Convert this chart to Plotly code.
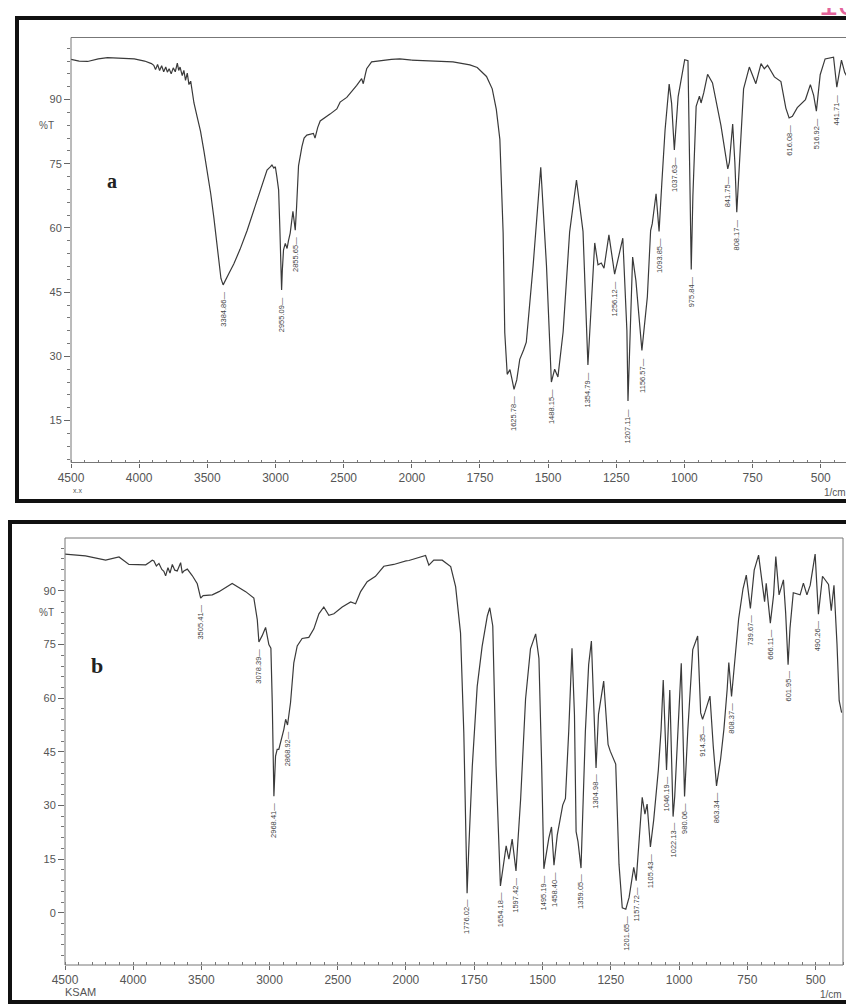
import plotly.graph_objects as go

W, H = 854, 1007
OFF = 8  # page body margin of the browser, compensated so pixel positions match the reference

# ---------------- data ----------------
wn_a = [4500, 4440, 4378, 4300, 4232, 4100, 4036, 3960, 3910, 3893, 3880, 3865, 3850, 3835, 3820,
        3805, 3793, 3780, 3765, 3750, 3735, 3720, 3710, 3700, 3684, 3672, 3660, 3647, 3635, 3622,
        3610, 3598, 3575, 3550, 3525, 3500, 3475, 3452, 3430, 3415, 3400, 3384, 3370, 3340, 3306,
        3260, 3208, 3160, 3111, 3062, 3040, 3026, 3012, 3001, 2990, 2977, 2968, 2962, 2955, 2950,
        2941, 2928, 2915, 2905, 2892, 2872, 2862, 2855, 2845, 2831, 2806, 2790, 2770, 2740, 2722,
        2710, 2690, 2672, 2640, 2600, 2550, 2526, 2477, 2440, 2404, 2368, 2356, 2340, 2331, 2295,
        2250, 2210, 2150, 2088, 2040, 2000, 1971, 1934, 1849, 1787, 1760, 1726, 1705, 1690, 1677,
        1665, 1659, 1650, 1640, 1632, 1625, 1615, 1604, 1590, 1580, 1555, 1531, 1527, 1506, 1488,
        1476, 1464, 1445, 1421, 1396, 1372, 1354, 1341, 1329, 1317, 1305, 1295, 1277, 1256, 1226,
        1211, 1207, 1190, 1178, 1156, 1136, 1124, 1118, 1104, 1093, 1083, 1071, 1056, 1047, 1037,
        1023, 999, 987, 981, 975, 969, 957, 945, 939, 929, 915, 897, 866, 841, 835, 823, 815, 808,
        799, 783, 762, 750, 738, 719, 707, 695, 670, 646, 628, 616, 604, 586, 556, 538, 526, 516,
        502, 484, 453, 441, 424, 412, 400]
t_a = [99.4, 99.0, 98.9, 99.5, 99.8, 99.6, 99.5, 99.0, 98.4, 98.0, 97.0, 98.2, 96.8, 97.9, 96.5,
       97.6, 96.4, 97.2, 96.0, 97.4, 96.5, 98.5, 96.8, 97.6, 95.6, 96.8, 94.5, 96.2, 93.5, 94.3,
       92.0, 89.2, 86.0, 82.6, 78.0, 73.3, 68.0, 62.4, 55.8, 51.5, 48.2, 46.7, 47.5, 49.5, 51.6,
       55.0, 59.4, 64.0, 68.8, 73.5, 74.2, 74.7, 74.0, 74.3, 72.0, 68.9, 60.0, 50.0, 45.5, 50.0,
       54.9, 56.4, 55.2, 57.0, 58.8, 63.9, 61.0, 59.5, 65.0, 74.5, 79.0, 81.0, 81.7, 82.0, 82.1,
       81.0, 83.5, 85.0, 85.8, 86.6, 87.8, 89.4, 90.5, 91.8, 93.3, 94.9, 93.7, 96.0, 97.2, 98.8,
       99.0, 99.2, 99.4, 99.5, 99.3, 99.2, 99.2, 99.0, 98.8, 98.1, 97.5, 95.4, 92.5, 87.7, 80.7,
       58.9, 35.5, 25.8, 26.9, 24.5, 22.3, 24.5, 29.3, 31.5, 33.3, 51.2, 73.0, 74.2, 51.2, 24.0,
       27.0, 25.2, 35.7, 59.1, 71.2, 59.2, 28.0, 43.6, 56.5, 51.4, 51.8, 50.6, 58.4, 49.2, 57.6,
       36.0, 19.6, 53.2, 47.7, 31.4, 43.9, 59.4, 61.0, 68.0, 59.2, 70.4, 82.9, 93.6, 89.1, 78.2,
       90.7, 99.3, 99.1, 75.2, 50.3, 67.4, 88.4, 90.8, 89.2, 91.6, 95.9, 93.9, 83.9, 73.8, 75.4,
       84.3, 75.3, 63.7, 75.3, 92.5, 97.6, 95.6, 93.7, 98.4, 97.2, 98.0, 95.3, 94.2, 88.0, 85.7,
       86.1, 88.1, 90.0, 93.5, 91.0, 87.3, 95.8, 99.5, 99.9, 92.9, 99.2, 96.3, 95.0]

wn_b = [4500, 4350, 4202, 4104, 4031, 3908, 3880, 3860, 3848, 3830, 3811, 3790, 3775, 3762, 3745,
        3730, 3713, 3695, 3677, 3665, 3652, 3640, 3628, 3603, 3567, 3530, 3505, 3487, 3420, 3371,
        3274, 3175, 3115, 3090, 3078, 3054, 3029, 3005, 2990, 2980, 2968, 2956, 2944, 2932, 2919,
        2895, 2882, 2868, 2846, 2822, 2797, 2761, 2712, 2675, 2638, 2602, 2565, 2528, 2467, 2405,
        2369, 2332, 2284, 2223, 2162, 2089, 1989, 1952, 1928, 1916, 1898, 1867, 1836, 1818, 1800,
        1788, 1782, 1776, 1770, 1757, 1739, 1721, 1702, 1693, 1682, 1670, 1654, 1642, 1633, 1623,
        1611, 1597, 1580, 1562, 1544, 1525, 1513, 1503, 1495, 1477, 1467, 1458, 1446, 1426, 1416,
        1404, 1392, 1383, 1377, 1370, 1359, 1343, 1331, 1321, 1309, 1304, 1295, 1276, 1260, 1252,
        1232, 1220, 1208, 1195, 1183, 1166, 1157, 1135, 1125, 1117, 1105, 1093, 1076, 1066, 1058,
        1046, 1034, 1022, 1016, 1004, 992, 980, 968, 950, 932, 921, 914, 906, 887, 875, 863, 848,
        836, 824, 818, 808, 794, 782, 766, 754, 739, 725, 709, 687, 681, 666, 654, 646, 634, 618,
        610, 601, 594, 582, 557, 545, 532, 520, 502, 490, 475, 453, 443, 433, 422, 414, 405]
t_b = [100.3, 99.8, 98.6, 99.5, 97.4, 97.3, 98.0, 98.6, 98.4, 97.0, 97.7, 96.0, 95.5, 94.2, 96.5,
       95.0, 97.4, 95.8, 95.6, 97.0, 97.9, 95.0, 95.6, 96.1, 94.3, 92.0, 88.0, 88.7, 88.9, 89.8,
       92.1, 89.8, 88.0, 82.0, 75.7, 77.5, 79.8, 75.0, 74.0, 58.7, 32.6, 43.8, 45.7, 45.7, 47.6,
       51.3, 54.1, 52.5, 58.8, 69.9, 74.6, 76.7, 77.0, 79.4, 83.6, 85.5, 83.2, 83.6, 85.5, 86.9,
       86.4, 89.8, 92.6, 94.1, 96.9, 97.4, 98.5, 99.4, 99.9, 97.2, 98.6, 98.6, 96.8, 91.2, 78.2,
       50.2, 22.3, 5.5, 17.6, 40.9, 63.3, 74.5, 83.0, 85.3, 80.2, 41.1, 7.5, 14.0, 18.7, 15.0,
       20.6, 11.7, 31.8, 59.8, 73.8, 78.0, 71.1, 41.2, 12.3, 20.8, 24.0, 13.3, 21.7, 30.1, 32.0,
       50.7, 74.0, 55.4, 22.7, 19.9, 12.5, 50.8, 69.4, 76.0, 50.8, 40.5, 55.5, 64.8, 47.1, 45.2,
       41.6, 13.6, 1.4, 1.0, 4.3, 12.7, 9.0, 32.3, 27.6, 30.4, 18.4, 25.9, 39.9, 51.1, 65.1,
       39.9, 62.3, 26.9, 32.5, 51.2, 69.8, 32.5, 51.2, 73.6, 77.4, 55.9, 54.1, 55.9, 60.6, 46.6,
       35.5, 43.0, 51.3, 62.5, 70.0, 60.5, 71.9, 82.2, 90.6, 94.4, 85.1, 95.8, 100.0, 87.0, 92.1,
       81.0, 88.9, 99.6, 88.9, 93.1, 84.0, 69.4, 79.6, 89.5, 88.9, 92.2, 88.9, 91.6, 100.3, 83.5,
       94.1, 91.8, 84.5, 91.6, 75.2, 59.3, 56.0]

peak_labels_a = ["3384.86", "2955.09", "2855.65", "1625.78", "1488.15", "1354.79", "1256.12",
                 "1207.11", "1156.57", "1093.85", "1037.63", "975.84", "841.75", "808.17",
                 "616.08", "516.92", "441.71"]
peak_labels_b = ["3505.41", "3078.39", "2968.41", "2868.92", "1776.02", "1654.18", "1597.42",
                 "1495.19", "1458.40", "1359.05", "1304.98", "1201.65", "1157.72", "1105.43",
                 "1046.19", "1022.13", "980.06", "914.35", "863.34", "808.37", "739.67",
                 "666.11", "601.95", "490.26"]

yticks_a = [90, 75, 60, 45, 30, 15]
yticks_b = [90, 75, 60, 45, 30, 15, 0]
xticks_high = [4500, 4000, 3500, 3000, 2500, 2000]
xticks_low = [1750, 1500, 1250, 1000, 750, 500]


def fx(px):
    return (px - OFF) / W


def fy(py):
    return 1 - (py - OFF) / H


# panel geometry in screen pixels (left, split at 2000 1/cm, right, top, bottom)
PA = dict(l=71, s=411.8, r=848, t=37.5, b=462.5, yr=[5.2, 104.5])
PB = dict(l=65, s=405.9, r=843, t=538, b=965, yr=[-14.6, 104.8])

LINE = "#3a3a3a"
TXT = "#555555"
FONT = "Liberation Sans, Arial, sans-serif"

fig = go.Figure()


def add_panel(wn, t, xa_hi, xa_lo, ya):
    for xa in (xa_hi, xa_lo):
        fig.add_trace(go.Scatter(x=wn, y=t, xaxis=xa, yaxis=ya, mode="lines",
                                 line=dict(color=LINE, width=1.2), showlegend=False,
                                 hoverinfo="skip"))


add_panel(wn_a, t_a, "x", "x2", "y")
add_panel(wn_b, t_b, "x3", "x4", "y2")


def xaxis_cfg(P, part, anchor):
    if part == "hi":
        dom = [fx(P["l"]), fx(P["s"])]
        rng = [4500, 2000]
        tv = xticks_high
        mdt = 100
    else:
        dom = [fx(P["s"]), fx(P["r"])]
        rng = [2000, 400]
        tv = xticks_low
        mdt = 50
    return dict(domain=dom, range=rng, anchor=anchor, tickmode="array", tickvals=tv,
                ticktext=[str(v) for v in tv], ticks="outside", ticklen=4, tickwidth=1,
                tickcolor="#666", showgrid=False, zeroline=False, showline=False,
                automargin=False,
                tickfont=dict(family=FONT, size=12, color=TXT),
                minor=dict(tick0=0, dtick=mdt, ticks="inside", ticklen=3, tickcolor="#777",
                           showgrid=False))


def yaxis_cfg(P, ticks, anchor):
    return dict(domain=[fy(P["b"]), fy(P["t"])], range=P["yr"], anchor=anchor,
                tickmode="array", tickvals=ticks, ticktext=[str(v) for v in ticks],
                ticks="outside", ticklen=6, tickwidth=1, tickcolor="#666", showgrid=False,
                zeroline=False, showline=False, automargin=False,
                tickfont=dict(family=FONT, size=11, color=TXT),
                minor=dict(tick0=0, dtick=3, ticks="outside", ticklen=3, tickcolor="#777",
                           showgrid=False))


annotations = []


def add_peak_labels(labels, wn, t, xa_hi, xa_lo, ya):
    for lab in labels:
        v = float(lab)
        tol = 25 if v >= 2000 else 10
        cands = [(tt, w) for w, tt in zip(wn, t) if abs(w - v) <= tol]
        tmin, wmin = min(cands)
        annotations.append(dict(x=wmin, y=tmin - 1.2, xref=xa_hi if wmin >= 2000 else xa_lo,
                                yref=ya, text=lab + "\u2014", textangle=-90, showarrow=False,
                                xanchor="center", yanchor="top",
                                font=dict(family=FONT, size=7.5, color="#444")))


add_peak_labels(peak_labels_a, wn_a, t_a, "x", "x2", "y")
add_peak_labels(peak_labels_b, wn_b, t_b, "x3", "x4", "y2")


def paper_text(px, py, text, size, color=TXT, family=FONT, xanchor="center", yanchor="middle"):
    annotations.append(dict(x=fx(px), y=fy(py), xref="paper", yref="paper", text=text,
                            showarrow=False, xanchor=xanchor, yanchor=yanchor,
                            font=dict(family=family, size=size, color=color)))


paper_text(46, 125, "%T", 10)
paper_text(46, 612, "%T", 10)
paper_text(112, 181, "<b>a</b>", 20, color="#222", family="Liberation Serif, serif")
paper_text(97, 665, "<b>b</b>", 22, color="#222", family="Liberation Serif, serif")
paper_text(77, 490, "x.x", 7)
paper_text(63, 992, "KSAM", 11, xanchor="left")
paper_text(848, 492, "1/cm", 10, xanchor="right")
paper_text(844, 994, "1/cm", 10, xanchor="right")
paper_text(817, -18, "100", 34, color="#e3649a", xanchor="left", yanchor="top")

shapes = []
for P in (PA, PB):
    shapes.append(dict(type="rect", xref="paper", yref="paper", x0=fx(P["l"]), x1=fx(P["r"]),
                       y0=fy(P["b"]), y1=fy(P["t"]), line=dict(color="#777", width=1)))
shapes.append(dict(type="rect", xref="paper", yref="paper", x0=fx(17), x1=fx(870),
                   y0=fy(501), y1=fy(18), line=dict(color="#111", width=4)))
shapes.append(dict(type="rect", xref="paper", yref="paper", x0=fx(10), x1=fx(870),
                   y0=fy(1002), y1=fy(522), line=dict(color="#111", width=4)))

fig.update_layout(
    width=W, height=H, margin=dict(l=0, r=0, t=0, b=0, autoexpand=False),
    paper_bgcolor="white", plot_bgcolor="white", showlegend=False,
    xaxis=xaxis_cfg(PA, "hi", "y"), xaxis2=xaxis_cfg(PA, "lo", "y"),
    xaxis3=xaxis_cfg(PB, "hi", "y2"), xaxis4=xaxis_cfg(PB, "lo", "y2"),
    yaxis=yaxis_cfg(PA, yticks_a, "x"), yaxis2=yaxis_cfg(PB, yticks_b, "x3"),
    annotations=annotations, shapes=shapes,
)

fig.write_html("out.html")
